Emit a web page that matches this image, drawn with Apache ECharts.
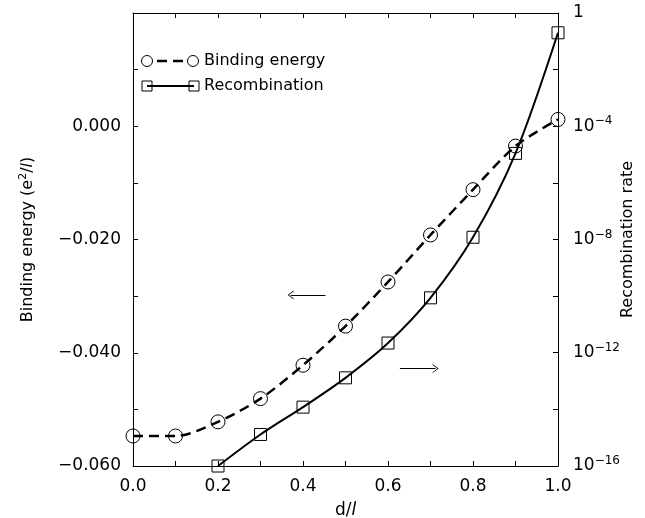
<!DOCTYPE html>
<html>
<head>
<meta charset="utf-8">
<script src="https://cdn.jsdelivr.net/npm/echarts@6/dist/echarts.min.js"></script>
<style>html,body{margin:0;padding:0;background:#fff}#c{width:645px;height:518px}</style>
</head>
<body>
<div id="c"></div>
<script>
// d/l values
var dValues = [0.0, 0.1, 0.2, 0.3, 0.4, 0.5, 0.6, 0.7, 0.8, 0.9, 1.0];
// Binding energy (e^2/l)
var bindingEnergy = [-0.0547, -0.0547, -0.0522, -0.0481, -0.0422, -0.0353, -0.0275, -0.0192, -0.0112, -0.0035, 0.0012];
// Recombination rate (null = below plotted range)
var recombination = [null, null, 1.0e-16, 1.3e-15, 1.2e-14, 1.3e-13, 2.2e-12, 8.7e-11, 1.2e-8, 1.1e-5, 0.2];
// Arrow annotations [x0, x1, y] in left-axis data units
var leftArrow = [0.453, 0.371, -0.0298];
var rightArrow = [0.628, 0.712, -0.0428];

var FONT = 'DejaVu Sans';
var chart = echarts.init(document.getElementById('c'));

var bePairs = dValues.map(function (d, i) { return [d, bindingEnergy[i]]; });
var rcPairs = [];
dValues.forEach(function (d, i) { if (recombination[i] != null) rcPairs.push([d, recombination[i]]); });

var arrowSym = 'path://M0,10 L5,0 L10,10 L9,10 L5,2 L1,10 Z';

function minus(s) { return s.replace('-', '\u2212'); }

var axLine = { onZero: false, lineStyle: { color: '#000', width: 1 } };
var axTick = { inside: true, length: 5, lineStyle: { color: '#000' } };

chart.setOption({
  animation: false,
  textStyle: { fontFamily: FONT, color: '#000' },
  grid: { left: 133, right: 87, top: 13, bottom: 52, containLabel: false, outerBoundsMode: 'none' },
  xAxis: [{
    type: 'value', min: 0, max: 1, interval: 0.1, position: 'bottom',
    name: 'd/{it|l}', nameLocation: 'middle', nameGap: 36, nameMoveOverlap: false,
    nameTextStyle: { fontFamily: FONT, fontSize: 17, color: '#000', rich: { it: { fontFamily: FONT, fontSize: 17, fontStyle: 'italic' } } },
    axisLine: axLine, axisTick: axTick,
    axisLabel: { fontFamily: FONT, fontSize: 17, color: '#000', margin: 12,
      formatter: function (v) { return Math.round(v * 10) % 2 === 0 ? v.toFixed(1) : ''; } },
    splitLine: { show: false }
  }, {
    type: 'value', min: 0, max: 1, interval: 0.1, position: 'top',
    axisLine: axLine, axisTick: axTick,
    axisLabel: { show: false }, splitLine: { show: false }
  }],
  yAxis: [{
    type: 'value', min: -0.06, max: 0.02, interval: 0.01, position: 'left',
    name: 'Binding energy (e{sup|2}/{it|l})', nameLocation: 'middle', nameGap: 95, nameMoveOverlap: false,
    nameTextStyle: { fontFamily: FONT, fontSize: 16, color: '#000',
      rich: { sup: { fontFamily: FONT, fontSize: 11, padding: [0, 0, 9, 0] }, it: { fontFamily: FONT, fontSize: 16, fontStyle: 'italic' } } },
    axisLine: axLine, axisTick: axTick,
    axisLabel: { fontFamily: FONT, fontSize: 17, color: '#000', margin: 12,
      formatter: function (v) {
        var k = Math.round(v * 100);
        if (k % 2 !== 0 || k >= 2) return '';
        return minus(v.toFixed(3));
      } },
    splitLine: { show: false }
  }, {
    type: 'log', logBase: 10, min: 1e-16, max: 1, interval: 2, position: 'right',
    name: 'Recombination rate', nameLocation: 'middle', nameGap: 62, nameMoveOverlap: false,
    nameTextStyle: { fontFamily: FONT, fontSize: 16, color: '#000' },
    axisLine: axLine, axisTick: axTick,
    axisLabel: { fontFamily: FONT, fontSize: 17, color: '#000', margin: 15,
      formatter: function (v) {
        var e = Math.round(Math.log10(v));
        if (e % 4 !== 0) return '';
        if (e === 0) return '1';
        return '10{sup|' + minus(String(e)) + '}';
      },
      rich: { sup: { fontFamily: FONT, fontSize: 12, padding: [0, 0, 10, 0] } } },
    splitLine: { show: false }
  }],
  series: [{
    name: 'Binding energy', type: 'line', xAxisIndex: 0, yAxisIndex: 0,
    data: bePairs, smooth: 0.3,
    symbol: 'circle', symbolSize: 14,
    lineStyle: { color: '#000', width: 2.5, type: [10, 6] },
    itemStyle: { color: 'rgba(0,0,0,0)', borderColor: '#000', borderWidth: 1 },
    markLine: {
      silent: true, symbol: ['none', arrowSym], symbolSize: [9, 6],
      label: { show: false },
      lineStyle: { color: '#000', width: 1, type: 'solid' },
      data: [
        [{ coord: [leftArrow[0], leftArrow[2]] }, { coord: [leftArrow[1], leftArrow[2]] }],
        [{ coord: [rightArrow[0], rightArrow[2]] }, { coord: [rightArrow[1], rightArrow[2]] }]
      ]
    }
  }, {
    name: 'Recombination', type: 'line', xAxisIndex: 0, yAxisIndex: 1,
    data: rcPairs, smooth: 0.3,
    symbol: 'rect', symbolSize: 12,
    lineStyle: { color: '#000', width: 2 },
    itemStyle: { color: 'rgba(0,0,0,0)', borderColor: '#000', borderWidth: 1 }
  }],
  graphic: [
    { type: 'line', shape: { x1: 153, y1: 61, x2: 188, y2: 61 }, style: { stroke: '#000', lineWidth: 2.5, lineDash: [10, 6], lineDashOffset: -4 } },
    { type: 'circle', shape: { cx: 147, cy: 61, r: 5.5 }, style: { fill: 'none', stroke: '#000', lineWidth: 1 } },
    { type: 'circle', shape: { cx: 193, cy: 61, r: 5.5 }, style: { fill: 'none', stroke: '#000', lineWidth: 1 } },
    { type: 'text', x: 204, y: 61, style: { text: 'Binding energy', font: '16px "DejaVu Sans"', fill: '#000', verticalAlign: 'middle' } },
    { type: 'line', shape: { x1: 147, y1: 86, x2: 194, y2: 86 }, style: { stroke: '#000', lineWidth: 2 } },
    { type: 'rect', shape: { x: 142, y: 81, width: 10, height: 10 }, style: { fill: 'none', stroke: '#000', lineWidth: 1 } },
    { type: 'rect', shape: { x: 189, y: 81, width: 10, height: 10 }, style: { fill: 'none', stroke: '#000', lineWidth: 1 } },
    { type: 'text', x: 204, y: 86, style: { text: 'Recombination', font: '16px "DejaVu Sans"', fill: '#000', verticalAlign: 'middle' } }
  ]
});
</script>
</body>
</html>
